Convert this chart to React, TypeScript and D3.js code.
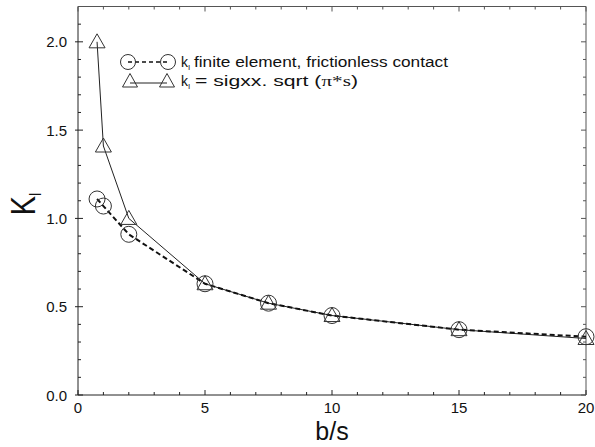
import React from "react";
import * as d3 from "d3";

const xCats = [0.75, 1, 2, 5, 7.5, 10, 15, 20];
const feValues = [1.11, 1.07, 0.91, 0.63, 0.52, 0.45, 0.37, 0.33];
const anValues = [2.0, 1.41, 1.0, 0.63, 0.52, 0.45, 0.37, 0.32];
const xTicks = [0, 5, 10, 15, 20];
const yTicks = [0, 0.5, 1.0, 1.5, 2.0];

const W = 595, H = 447;
const L = 78, R = 586, T = 6.5, B = 395;

export default function App() {
  const x = d3.scaleLinear().domain([0, 20]).range([L, R]);
  const y = d3.scaleLinear().domain([0, 2.2]).range([B, T]);
  const fePts: [number, number][] = xCats.map((v, i) => [v, feValues[i]]);
  const anPts: [number, number][] = xCats.map((v, i) => [v, anValues[i]]);
  const line = d3.line<[number, number]>().x(d => x(d[0])).y(d => y(d[1]));
  const xMinor = d3.range(0, 21, 1);
  const yMinor = d3.range(0, 22).map(i => i / 10);
  const tri = (cx: number, cy: number, s = 8) =>
    `M${cx},${cy - s} L${cx + s},${cy + 6} L${cx - s},${cy + 6} Z`;
  const font = "Liberation Sans, Arial, sans-serif";
  const mk = "#333";
  return (
    <svg width={W} height={H} style={{ position: "absolute", left: 0, top: 0, background: "#fff" }}
      fontFamily={font}>
      <rect x={0} y={0} width={W} height={H} fill="#fff" />
      {/* frame */}
      <g stroke="#222" strokeWidth={1} fill="none">
        <line x1={L} y1={T} x2={L} y2={B} />
        <line x1={L} y1={B} x2={R} y2={B} />
        <line x1={R} y1={T} x2={R} y2={B} stroke="#555" />
        <line x1={L} y1={T} x2={R} y2={T} stroke="#555" />
        {xMinor.map(v => {
          const len = v % 5 === 0 ? 5 : 3;
          return (
            <g key={"xt" + v}>
              <line x1={x(v)} x2={x(v)} y1={B} y2={B - len} />
              <line x1={x(v)} x2={x(v)} y1={T} y2={T + len} stroke="#555" />
            </g>
          );
        })}
        {yMinor.map(v => {
          const major = Math.abs(v * 2 - Math.round(v * 2)) < 1e-6;
          const len = major ? 5 : 3;
          return (
            <g key={"yt" + v}>
              <line x1={L - (major ? 3 : 0)} x2={L + len} y1={y(v)} y2={y(v)} />
              <line x1={R} x2={R - len} y1={y(v)} y2={y(v)} stroke="#555" />
            </g>
          );
        })}
      </g>
      {/* tick labels */}
      {xTicks.map(v => (
        <text key={"xl" + v} x={x(v)} y={413} fontSize={15} textAnchor="middle" fill="#111">{v}</text>
      ))}
      {yTicks.map(v => (
        <text key={"yl" + v} x={67} y={y(v) + 5.5} fontSize={15} textAnchor="end" fill="#111">{v.toFixed(1)}</text>
      ))}
      {/* axis titles */}
      <text x={332} y={440} fontSize={25} textAnchor="middle" fill="#111">b/s</text>
      <g transform={`translate(35,204) rotate(-90)`}>
        <text x={0} y={0} fontSize={36} textAnchor="middle" fill="#111" transform="scale(0.8,1)">
          K<tspan fontSize={16} dy={6}>I</tspan>
        </text>
      </g>
      {/* series lines */}
      <path d={line(anPts) || ""} fill="none" stroke="#222" strokeWidth={1} />
      <path d={line(fePts) || ""} fill="none" stroke="#111" strokeWidth={2} strokeDasharray="5,3" />
      {/* markers */}
      {fePts.map((p, i) => (
        <circle key={"c" + i} cx={x(p[0])} cy={y(p[1])} r={8} fill="none" stroke={mk} strokeWidth={1} />
      ))}
      {anPts.map((p, i) => (
        <path key={"t" + i} d={tri(x(p[0]), y(p[1]))} fill="none" stroke={mk} strokeWidth={1} />
      ))}
      {/* legend */}
      <line x1={128} x2={168} y1={62} y2={62} stroke="#111" strokeWidth={1.5} strokeDasharray="4,3" />
      <circle cx={128} cy={62} r={7.5} fill="none" stroke={mk} />
      <circle cx={168} cy={62} r={7.5} fill="none" stroke={mk} />
      <line x1={130} x2={167} y1={83} y2={83} stroke="#222" strokeWidth={1} />
      <path d={tri(130, 81, 7.5)} fill="none" stroke={mk} />
      <path d={tri(167, 81, 7.5)} fill="none" stroke={mk} />
      <text x={181} y={67} fontSize={14} fill="#111">k<tspan fontSize={8} dy={3}>I</tspan></text>
      <text x={194} y={67} fontSize={14} fill="#111" textLength={254} lengthAdjust="spacingAndGlyphs">finite element, frictionless contact</text>
      <text x={181} y={86} fontSize={14} fill="#111">k<tspan fontSize={8} dy={3}>I</tspan></text>
      <text x={195} y={86} fontSize={14} fill="#111" textLength={163} lengthAdjust="spacingAndGlyphs">= sigxx. sqrt (<tspan fontFamily="Liberation Serif, serif">π*s</tspan>)</text>
    </svg>
  );
}
